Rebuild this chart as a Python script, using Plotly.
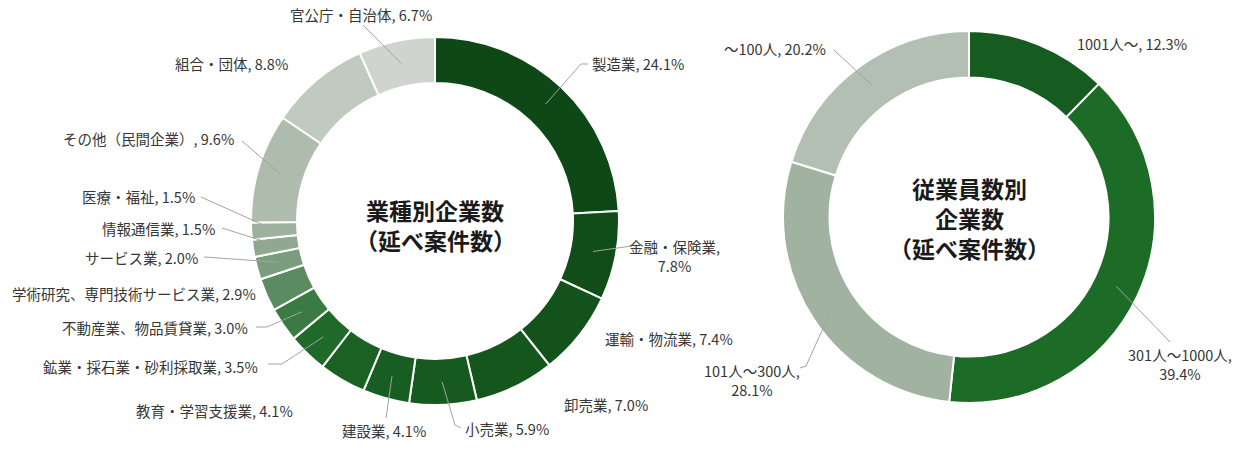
import math
import plotly.graph_objects as go

# ---------------- data ----------------
industry_labels = [
    "製造業", "金融・保険業", "運輸・物流業", "卸売業", "小売業", "建設業",
    "教育・学習支援業", "鉱業・採石業・砂利採取業", "不動産業、物品賃貸業",
    "学術研究、専門技術サービス業", "サービス業", "情報通信業", "医療・福祉",
    "その他（民間企業）", "組合・団体", "官公庁・自治体",
]
industry_values = [24.1, 7.8, 7.4, 7.0, 5.9, 4.1, 4.1, 3.5, 3.0, 2.9, 2.0, 1.5, 1.5, 9.6, 8.8, 6.7]

employee_labels = ["1001人～", "301人～1000人", "101人～300人", "～100人"]
employee_values = [12.3, 39.4, 28.1, 20.2]

industry_title = ["業種別企業数", "（延べ案件数）"]
employee_title = ["従業員数別", "企業数", "（延べ案件数）"]

# ---------------- styles ----------------
industry_colors = [
    "#0f4817", "#114d19", "#13521b", "#15561d", "#175a1f", "#185d21",
    "#1a6123", "#1f6a28", "#3b7b43", "#5b8b60", "#7a9d7d", "#8fa990",
    "#9db19d", "#aebcad", "#c1cac0", "#cfd5ce",
]
employee_colors = ["#165b20", "#1c6b26", "#a2b2a1", "#b3bfb2"]

W, H = 1249, 461
FONT = "Noto Sans CJK JP, Noto Sans, sans-serif"
LABEL_COLOR = "#363636"
LINE_COLOR = "#a3a3a3"
HOLE = 0.75

# pie geometry (pixels): centre and outer radius
LEFT_PIE = dict(cx=435, cy=221, r=184)
RIGHT_PIE = dict(cx=969, cy=217, r=186)

# label placement (pixels): x, y, xanchor, wrap, leader end points
left_label_layout = [
    (590, 63, "left", False, [(581, 64), (588, 64)]),
    (674, 256, "center", True, [(632, 246)]),
    (603, 338, "left", False, None),
    (562, 404, "left", False, None),
    (463, 428, "left", False, [(455, 425), (461, 428)]),
    (384, 430, "center", False, [(386, 418)]),
    (295, 410, "right", False, None),
    (260, 366, "right", False, [(282, 364), (268, 364)]),
    (250, 327, "right", False, [(267, 327), (256, 327)]),
    (258, 293, "right", False, None),
    (200, 257, "right", False, [(204, 257)]),
    (217, 228, "right", False, [(222, 228)]),
    (197, 197, "right", False, [(201, 197)]),
    (236, 138, "right", False, [(242, 141)]),
    (290, 63, "right", False, None),
    (361, 14, "center", False, [(363, 25)]),
]
right_label_layout = [
    (1075, 44, "left", False, None),
    (1180, 364, "center", True, [(1170, 342)]),
    (752, 380, "center", True, [(806, 366), (800, 368)]),
    (828, 48, "right", False, [(834, 50)]),
]
TITLE_LINE_GAP = 30


def px(x, y):
    return x / W, 1 - y / H


def domain(p):
    return dict(
        x=[(p["cx"] - p["r"]) / W, (p["cx"] + p["r"]) / W],
        y=[1 - (p["cy"] + p["r"]) / H, 1 - (p["cy"] - p["r"]) / H],
    )


fig = go.Figure()
for labels, values, colors, p in [
    (industry_labels, industry_values, industry_colors, LEFT_PIE),
    (employee_labels, employee_values, employee_colors, RIGHT_PIE),
]:
    fig.add_trace(go.Pie(
        labels=labels, values=values, hole=HOLE, sort=False,
        direction="clockwise", rotation=0, domain=domain(p),
        marker=dict(colors=colors, line=dict(color="white", width=2)),
        textinfo="none", hoverinfo="label+percent", showlegend=False,
    ))

annotations = []
shapes = []


def add_labels(labels, values, p, layout):
    total = sum(values)
    cum = 0.0
    r_mid = p["r"] * (1 + HOLE) / 2
    for lab, val, (lx, ly, anchor, wrap, pts) in zip(labels, values, layout):
        theta = math.radians((cum + val / 2) / total * 360)
        cum += val
        sep = ",<br>" if wrap else ", "
        text = f"{lab}{sep}{val:.1f}%"
        x, y = px(lx, ly)
        annotations.append(dict(
            x=x, y=y, xref="paper", yref="paper", text=text, showarrow=False,
            xanchor=anchor, yanchor="middle", align="center",
            font=dict(family=FONT, size=14.5, color=LABEL_COLOR),
        ))
        if pts:
            sx = p["cx"] + r_mid * math.sin(theta)
            sy = p["cy"] - r_mid * math.cos(theta)
            path_pts = [(sx, sy)] + pts
            d = "M " + " L ".join(f"{px(a, b)[0]:.5f},{px(a, b)[1]:.5f}" for a, b in path_pts)
            shapes.append(dict(type="path", path=d, xref="paper", yref="paper",
                               line=dict(color=LINE_COLOR, width=1)))


add_labels(industry_labels, industry_values, LEFT_PIE, left_label_layout)
add_labels(employee_labels, employee_values, RIGHT_PIE, right_label_layout)

for lines, p, cy in [(industry_title, LEFT_PIE, 225), (employee_title, RIGHT_PIE, 218)]:
    n = len(lines)
    for i, line in enumerate(lines):
        ly = cy + (i - (n - 1) / 2) * TITLE_LINE_GAP
        x, y = px(p["cx"], ly)
        annotations.append(dict(
            x=x, y=y, xref="paper", yref="paper", text=line, showarrow=False,
            xanchor="center", yanchor="middle", align="center", height=26,
            font=dict(family=FONT, size=23, color="#1a1a1a", weight=600),
        ))

fig.update_layout(
    width=W, height=H, margin=dict(l=0, r=0, t=0, b=0),
    paper_bgcolor="white", plot_bgcolor="white", showlegend=False,
    annotations=annotations, shapes=shapes,
)
fig.write_html("out.html")
